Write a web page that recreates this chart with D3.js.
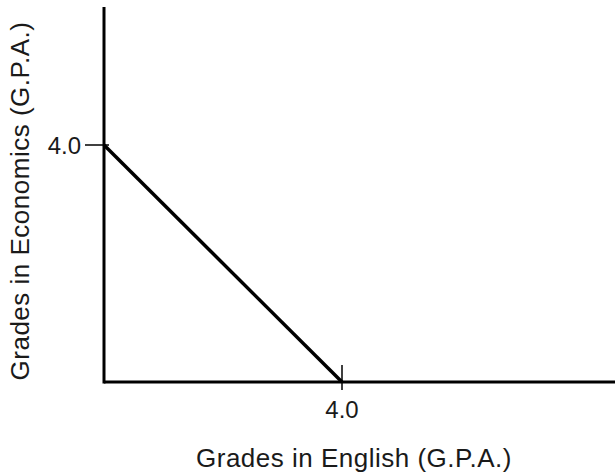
<!DOCTYPE html>
<html>
<head>
<meta charset="utf-8">
<script src="https://cdn.jsdelivr.net/npm/d3@7"></script>
<style>
  html, body { margin: 0; padding: 0; background: #fff; }
  svg { display: block; }
  text { font-family: "Liberation Sans", Arial, sans-serif; fill: #1a1a1a; }
</style>
</head>
<body>
<script>
// Data
const xTickValues = [4.0];
const yTickValues = [4.0];
const xTickLabels = ["4.0"];
const yTickLabels = ["4.0"];
const lineX = [0, 4.0];
const lineY = [4.0, 0];
const xTitle = "Grades in English (G.P.A.)";
const yTitle = "Grades in Economics (G.P.A.)";

const W = 615, H = 473;
const svg = d3.select("body").append("svg").attr("width", W).attr("height", H);

const x = d3.scaleLinear().domain([0, 4]).range([104, 342]);
const y = d3.scaleLinear().domain([0, 4]).range([382, 145]);

const xMax = x.invert(W);
const yMax = y.invert(7);

// Axes lines
svg.append("line")
  .attr("x1", x(0)).attr("x2", x(xMax))
  .attr("y1", y(0)).attr("y2", y(0))
  .attr("stroke", "#000").attr("stroke-width", 3);
svg.append("line")
  .attr("x1", x(0)).attr("x2", x(0))
  .attr("y1", y(0) + 1.5).attr("y2", y(yMax))
  .attr("stroke", "#000").attr("stroke-width", 3);

// X ticks
const xt = svg.append("g");
xTickValues.forEach((v, i) => {
  xt.append("line")
    .attr("x1", x(v)).attr("x2", x(v))
    .attr("y1", y(0) - 17).attr("y2", y(0) + 8)
    .attr("stroke", "#000").attr("stroke-width", 1.5);
  xt.append("text")
    .attr("x", x(v)).attr("y", 418)
    .attr("text-anchor", "middle")
    .attr("font-size", 24)
    .text(xTickLabels[i]);
});

// Y ticks
const yt = svg.append("g");
yTickValues.forEach((v, i) => {
  yt.append("line")
    .attr("x1", x(0) - 19).attr("x2", x(0) + 5)
    .attr("y1", y(v)).attr("y2", y(v))
    .attr("stroke", "#000").attr("stroke-width", 1.5);
  yt.append("text")
    .attr("x", 81).attr("y", y(v) + 9)
    .attr("text-anchor", "end")
    .attr("font-size", 24)
    .text(yTickLabels[i]);
});

// Diagonal line
const line = d3.line().x((d, i) => x(lineX[i])).y((d, i) => y(lineY[i]));
svg.append("path")
  .attr("d", line(lineX))
  .attr("fill", "none")
  .attr("stroke", "#000").attr("stroke-width", 3.5);

// Titles
svg.append("text")
  .attr("x", 354).attr("y", 467)
  .attr("text-anchor", "middle")
  .attr("font-size", 26)
  .attr("letter-spacing", 0.5)
  .text(xTitle);

svg.append("text")
  .attr("transform", "translate(29,201) rotate(-90)")
  .attr("text-anchor", "middle")
  .attr("font-size", 26)
  .attr("letter-spacing", 0.5)
  .text(yTitle);
</script>
</body>
</html>
